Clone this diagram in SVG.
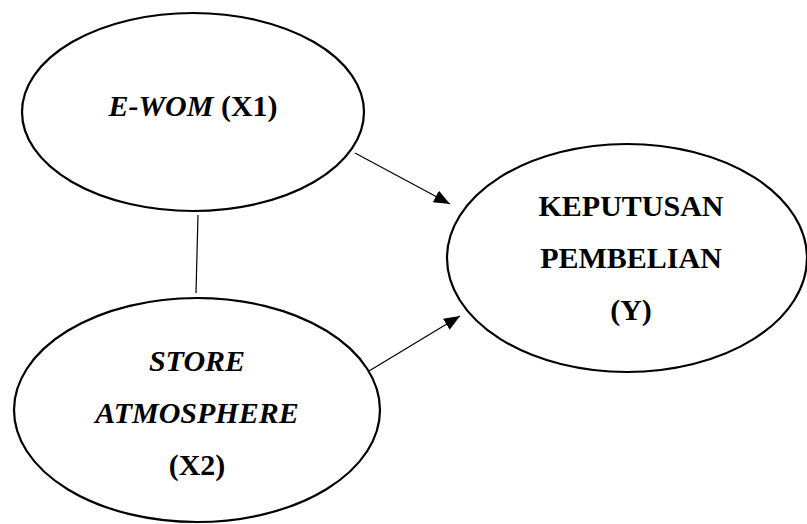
<svg xmlns="http://www.w3.org/2000/svg" width="807" height="524" viewBox="0 0 807 524">
<defs>
<style>
.node{fill:#fff;stroke:#000;stroke-width:2.2}
.t{font-family:"Liberation Serif","Times New Roman",serif;font-size:30px;font-weight:bold;fill:#000;text-anchor:middle}
.i{font-style:italic}
.c{stroke:#000;stroke-width:1.2;fill:none}
</style>
<marker id="ah" markerUnits="userSpaceOnUse" markerWidth="18" markerHeight="14" refX="16" refY="6.5" orient="auto">
<path d="M0,0 L16,6.5 L0,13 z" fill="#000"/>
</marker>
</defs>
<rect width="807" height="524" fill="#fff"/>
<g id="connectors">
<line class="c" x1="198" y1="215" x2="196" y2="293"/>
<line class="c" x1="355" y1="153" x2="450" y2="204" marker-end="url(#ah)"/>
<line class="c" x1="369" y1="371" x2="460" y2="316" marker-end="url(#ah)"/>
</g>
<g id="ewom">
<ellipse class="node" cx="193" cy="112" rx="171" ry="99"/>
<text class="t" x="193" y="116"><tspan class="i">E-WOM</tspan> (X1)</text>
</g>
<g id="store">
<ellipse class="node" cx="197" cy="410" rx="183" ry="112"/>
<text class="t i" x="197" y="371">STORE</text>
<text class="t i" x="197" y="423">ATMOSPHERE</text>
<text class="t" x="197" y="475">(X2)</text>
</g>
<g id="keputusan">
<ellipse class="node" cx="627" cy="258" rx="180" ry="114"/>
<text class="t" x="631" y="216">KEPUTUSAN</text>
<text class="t" x="631" y="268">PEMBELIAN</text>
<text class="t" x="631" y="320">(Y)</text>
</g>
</svg>
